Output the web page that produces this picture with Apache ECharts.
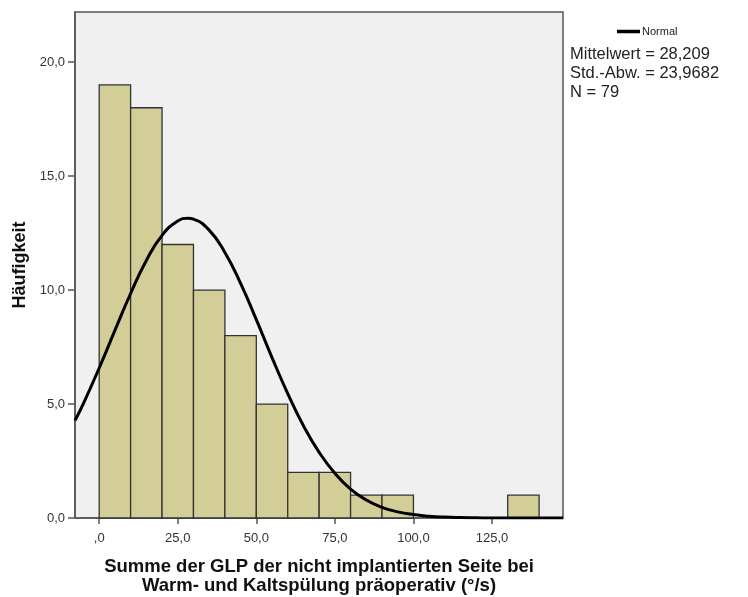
<!DOCTYPE html>
<html>
<head>
<meta charset="utf-8">
<script src="https://cdn.jsdelivr.net/npm/echarts@6/dist/echarts.min.js"></script>
<style>
  html, body { margin: 0; padding: 0; background: #ffffff; }
  #chart { width: 748px; height: 597px; }
</style>
</head>
<body>
<div id="chart"></div>
<script>
// Histogram bins (lower edge, width 10) and their frequencies
const binStarts = [0, 10, 20, 30, 40, 50, 60, 70, 80, 90, 130];
const binWidth = 10;
const binCounts = [19, 18, 12, 10, 8, 5, 2, 2, 1, 1, 1];

// Fitted normal curve, x positions and heights in frequency units
const curveX = [-7.7, -5, 0, 5, 10, 15, 20, 25, 28.2, 30, 35, 40, 45, 50, 55, 60, 65, 70, 75, 80, 85, 90, 95, 100, 105, 110, 115, 120, 125, 135, 147.6];
const curveY = [4.28, 5.03, 6.58, 8.23, 9.85, 11.30, 12.40, 13.03, 13.15, 13.11, 12.63, 11.65, 10.29, 8.70, 7.04, 5.46, 4.05, 2.88, 1.96, 1.27, 0.79, 0.47, 0.27, 0.15, 0.08, 0.04, 0.02, 0.01, 0.0, 0.0, 0.0];

// Tick labels
const xTicks = [0, 25, 50, 75, 100, 125];
const yTicks = [0, 5, 10, 15, 20];

// Summary text
const statLines = ['Mittelwert = 28,209', 'Std.-Abw. = 23,9682', 'N = 79'];

const FONT = 'Arial, "Liberation Sans", sans-serif';
const fmtX = v => (Number(v) === 0 ? ',0' : Number(v).toFixed(1).replace('.', ','));
const fmtY = v => Number(v).toFixed(1).replace('.', ',');

const barData = binStarts.map((s, i) => [s, s + binWidth, binCounts[i]]);
const curveData = curveX.map((x, i) => [x, curveY[i]]);

const chart = echarts.init(document.getElementById('chart'));
chart.setOption({
  animation: false,
  backgroundColor: '#ffffff',
  textStyle: { fontFamily: FONT },
  grid: {
    left: 75, right: 185, top: 12, bottom: 79,
    outerBoundsMode: 'none', containLabel: false,
    show: true, backgroundColor: '#f0f0f0', borderColor: '#555555', borderWidth: 1.5
  },
  legend: {
    data: [{ name: 'Normal', icon: 'rect' }],
    left: 612, top: 21,
    itemWidth: 23, itemHeight: 3.5,
    textStyle: { fontSize: 11, color: '#222222', fontFamily: FONT, padding: [0, 0, 0, -3] }
  },
  xAxis: {
    type: 'value', min: -7.7, max: 147.6,
    axisLine: { show: true, onZero: false, lineStyle: { color: '#555555', width: 1.5 } },
    axisTick: { show: true, customValues: xTicks, length: 6, lineStyle: { color: '#555555', width: 1.5 } },
    axisLabel: { customValues: xTicks, formatter: fmtX, fontSize: 13, color: '#333333', margin: 14, fontFamily: FONT },
    splitLine: { show: false },
    name: 'Summe der GLP der nicht implantierten Seite bei\nWarm- und Kaltspülung präoperativ (°/s)',
    nameLocation: 'middle', nameGap: 40,
    nameTextStyle: { fontSize: 18.5, fontWeight: 'bold', color: '#111111', lineHeight: 18.5, fontFamily: FONT }
  },
  yAxis: {
    type: 'value', min: 0, max: 22.2,
    axisLine: { show: true, onZero: false, lineStyle: { color: '#555555', width: 1.5 } },
    axisTick: { show: true, customValues: yTicks, length: 7, lineStyle: { color: '#555555', width: 1.5 } },
    axisLabel: { customValues: yTicks, formatter: fmtY, fontSize: 13, color: '#333333', margin: 10, fontFamily: FONT },
    splitLine: { show: false },
    name: 'Häufigkeit', nameLocation: 'middle', nameGap: 44,
    nameTextStyle: { fontSize: 18, fontWeight: 'bold', color: '#111111', fontFamily: FONT }
  },
  series: [
    {
      type: 'custom',
      name: 'Histogramm',
      data: barData,
      encode: { x: [0, 1], y: 2 },
      renderItem: function (params, api) {
        const p0 = api.coord([api.value(0), 0]);
        const p1 = api.coord([api.value(1), api.value(2)]);
        return {
          type: 'rect',
          shape: { x: p0[0], y: p1[1], width: p1[0] - p0[0], height: p0[1] - p1[1] },
          style: { fill: '#d3ce97', stroke: '#333333', lineWidth: 1.3 }
        };
      },
      z: 2
    },
    {
      type: 'line',
      name: 'Normal',
      data: curveData,
      smooth: true,
      showSymbol: false,
      symbol: 'none',
      lineStyle: { color: '#000000', width: 3 },
      itemStyle: { color: '#000000' },
      z: 3
    }
  ],
  graphic: statLines.map((t, i) => ({
    type: 'text',
    left: 570, top: 46 + i * 19,
    style: { text: t, fontSize: 16.5, fill: '#222222', fontFamily: FONT }
  }))
});
</script>
</body>
</html>
